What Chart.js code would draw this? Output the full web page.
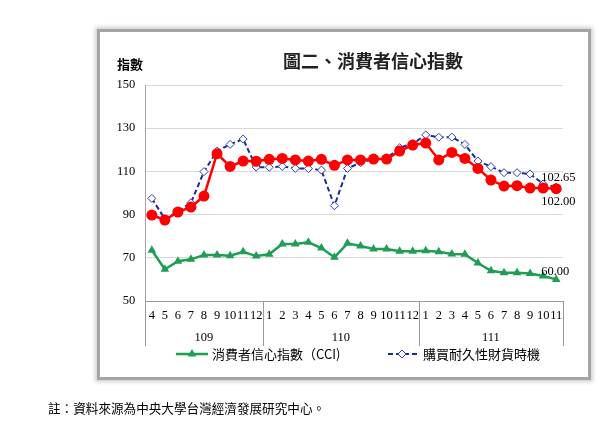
<!DOCTYPE html>
<html><head><meta charset="utf-8">
<script src="https://cdn.jsdelivr.net/npm/chart.js@4/dist/chart.umd.min.js"></script>
<style>
html,body{margin:0;padding:0;background:#fff;width:607px;height:435px;overflow:hidden;}
#frame{position:absolute;left:97px;top:29px;width:488px;height:345px;border:3px solid #a4a4a4;box-shadow:0 0 4px 2px #d0d0d0;background:#fff;}
#c{position:absolute;left:0;top:0;}
.t{position:absolute;font-family:"Noto Sans CJK TC","Noto Sans CJK SC",sans-serif;color:#000;white-space:nowrap;}
#title{left:283px;top:51px;font-size:18px;line-height:18px;font-weight:bold;color:#222;}
#ylab{left:117px;top:57px;font-size:13px;line-height:13px;font-weight:bold;}
#note{left:48px;top:401px;font-size:12.6px;line-height:13px;}
</style></head><body>
<div id="frame"></div>
<canvas id="c" width="607" height="435"></canvas>
<div class="t" id="title">圖二、消費者信心指數</div>
<div class="t" id="ylab">指數</div>
<div class="t" id="note">註：資料來源為中央大學台灣經濟發展研究中心。</div>
<script>
const months = ['4','5','6','7','8','9','10','11','12',
  '1','2','3','4','5','6','7','8','9','10','11','12',
  '1','2','3','4','5','6','7','8','9','10','11'];
const years = ['109','110','111'];
const yearSpans = [9, 12, 11];
const yTicks = [50, 70, 90, 110, 130, 150];

const cciName = '消費者信心指數（CCI)';
const cci = [73.5,64.7,68.4,69.3,71.3,71.3,71.0,72.8,70.8,71.6,76.4,76.4,77.2,74.5,70.2,76.7,75.5,74.1,74.1,73.0,73.0,73.3,72.8,71.8,71.6,67.6,64.0,63.1,63.1,62.7,61.6,60.00];
const durableName = '購買耐久性財貨時機';
const durable = [97.5,88.0,91.5,95.5,109.9,119.4,122.5,125.0,112.0,111.9,112.3,111.4,111.3,110.6,94.1,111.4,114.0,115.7,116.0,121.0,122.8,126.9,125.8,125.9,122.5,114.8,112.2,109.4,109.4,108.8,104.2,102.65];
const redName = '';
const redSeries = [89.8,87.5,91.2,93.5,98.6,118.2,112.3,114.8,114.7,115.6,116.0,115.3,114.8,115.6,112.8,115.3,115.3,115.7,115.7,119.4,122.2,123.1,115.3,118.8,116.0,111.4,106.0,103.2,103.4,102.3,102.3,102.00];

const GREEN = '#1f9d55', BLUE = '#1c2a9c', BLUEPT = '#2a3fc0', RED = '#ff0000';
const SERIF = '"Liberation Serif","Times New Roman",serif';
const CJK = '"Noto Sans CJK TC","Noto Sans CJK SC",sans-serif';

const extras = {
  id: 'extras',
  afterDraw(chart) {
    const ctx = chart.ctx;
    const x = chart.scales.x, y = chart.scales.y;
    const n = months.length;
    const w = (x.right - x.left) / n;
    const base = chart.chartArea.bottom;
    ctx.save();
    ctx.strokeStyle = '#9a9a9a';
    ctx.lineWidth = 1;
    let k = 0;
    const bounds = [0];
    yearSpans.forEach(s => { k += s; bounds.push(k); });
    bounds.forEach(b => {
      const px = Math.round(x.left + b * w) + 0.5;
      ctx.beginPath(); ctx.moveTo(px, base); ctx.lineTo(px, base + 45); ctx.stroke();
    });
    ctx.fillStyle = '#000';
    ctx.font = '12.5px ' + SERIF;
    ctx.textAlign = 'center'; ctx.textBaseline = 'middle';
    years.forEach((yr, i) => {
      const cx = x.left + (bounds[i] + bounds[i + 1]) / 2 * w;
      ctx.fillText(yr, cx, base + 37);
    });
    const last = n - 1;
    const lx = x.getPixelForValue(last) - 15;
    ctx.textAlign = 'left';
    ctx.fillText(durable[last].toFixed(2), lx, y.getPixelForValue(durable[last]) - 10);
    ctx.fillText(redSeries[last].toFixed(2), lx, y.getPixelForValue(redSeries[last]) + 13);
    ctx.fillText(cci[last].toFixed(2), lx, y.getPixelForValue(cci[last]) - 8);
    const ly = 354;
    ctx.lineWidth = 2.5; ctx.strokeStyle = GREEN;
    ctx.beginPath(); ctx.moveTo(176, ly); ctx.lineTo(208, ly); ctx.stroke();
    ctx.fillStyle = GREEN;
    ctx.beginPath();
    const r = 5;
    ctx.moveTo(192, ly - r); ctx.lineTo(192 + r * 0.866, ly + r / 2); ctx.lineTo(192 - r * 0.866, ly + r / 2); ctx.closePath(); ctx.fill();
    ctx.lineWidth = 2; ctx.strokeStyle = BLUE; ctx.setLineDash([5, 3]);
    ctx.beginPath(); ctx.moveTo(388, ly); ctx.lineTo(417, ly); ctx.stroke();
    ctx.setLineDash([]);
    ctx.fillStyle = '#fff'; ctx.strokeStyle = BLUEPT; ctx.lineWidth = 1;
    ctx.beginPath(); ctx.moveTo(402 - 4, ly); ctx.lineTo(402, ly - 4); ctx.lineTo(402 + 4, ly); ctx.lineTo(402, ly + 4); ctx.closePath(); ctx.fill(); ctx.stroke();
    ctx.fillStyle = '#000';
    ctx.font = '13px ' + CJK;
    ctx.textBaseline = 'middle';
    ctx.fillText(cciName, 212, ly);
    ctx.fillText(durableName, 423, ly);
    ctx.restore();
  }
};

new Chart(document.getElementById('c'), {
  type: 'line',
  data: {
    labels: months,
    datasets: [
      { label: redName, data: redSeries, borderColor: RED, backgroundColor: RED, borderWidth: 2.5,
        pointStyle: 'circle', pointRadius: 5.5, pointBorderWidth: 0, pointBackgroundColor: RED, tension: 0, order: 0 },
      { label: durableName, data: durable, borderColor: BLUE, borderWidth: 2, borderDash: [5, 3],
        pointStyle: 'rectRot', pointRadius: 4, pointBorderColor: BLUEPT, pointBackgroundColor: '#fff', pointBorderWidth: 1, tension: 0, order: 1 },
      { label: cciName, data: cci, borderColor: GREEN, backgroundColor: GREEN, borderWidth: 2.5,
        pointStyle: 'triangle', pointRadius: 5, pointBorderWidth: 0, pointBackgroundColor: GREEN, tension: 0, order: 2 }
    ]
  },
  options: {
    responsive: false,
    animation: false,
    layout: { padding: { left: 100, right: 44.3, top: 85, bottom: 114 } },
    plugins: { legend: { display: false }, tooltip: { enabled: false }, title: { display: false } },
    scales: {
      x: {
        offset: true,
        afterFit(s) { s.height = 20; },
        grid: { display: false, drawTicks: false },
        border: { display: true, color: '#9a9a9a', width: 1 },
        ticks: { autoSkip: false, maxRotation: 0, minRotation: 0, padding: 7, color: '#000', font: { family: SERIF, size: 12.5 } }
      },
      y: {
        min: 50, max: 150,
        afterFit(s) { s.width = 45.3; },
        afterBuildTicks(s) { s.ticks = yTicks.map(v => ({ value: v })); },
        grid: { color: '#d9d9d9', drawTicks: false },
        border: { display: true, color: '#a6a6a6', width: 1 },
        ticks: { padding: 10, color: '#000', font: { family: SERIF, size: 12.5 } }
      }
    }
  },
  plugins: [extras]
});
</script>
</body></html>
